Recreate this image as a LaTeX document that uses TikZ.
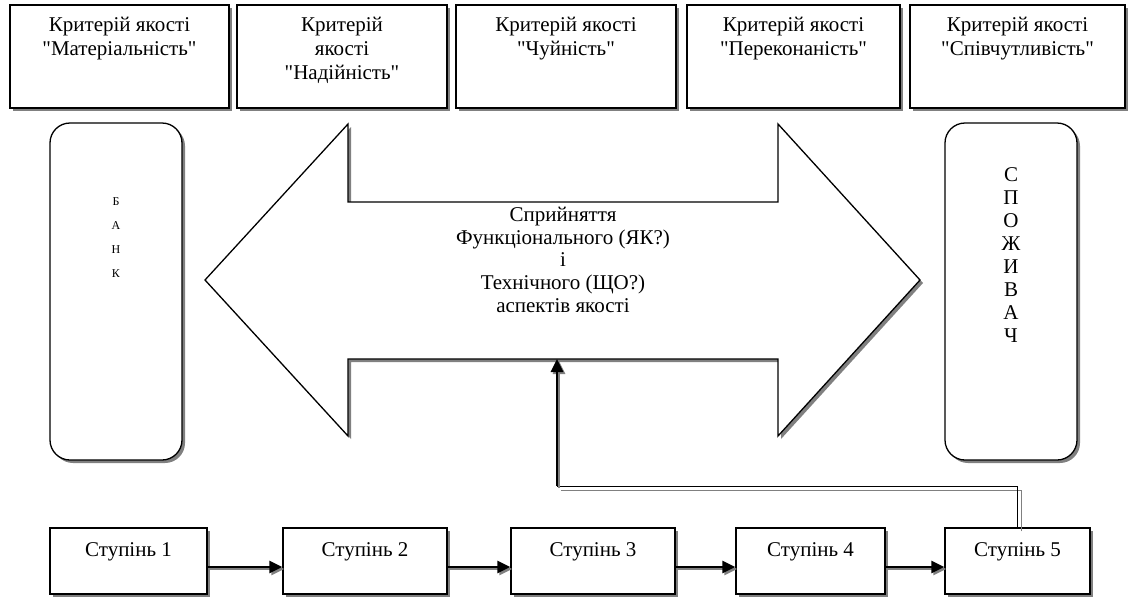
\documentclass[tikz,border=0pt]{standalone}
\usepackage{fontspec}
\setmainfont{Liberation Serif}[Ligatures=TeXOff]
\usetikzlibrary{positioning,shadows,arrows.meta}
\begin{document}
\begin{tikzpicture}[x=1pt,y=-1pt,
    boxshadow/.style={drop shadow={shadow xshift=3pt,shadow yshift=-3pt,fill=black!50,opacity=1}},
    box/.style={draw,line width=1.3pt,fill=white,boxshadow,inner sep=0pt},
    krit/.style={box,minimum height=103pt},
    party/.style={box,rounded corners=20pt,minimum width=132pt,minimum height=337pt},
    stup/.style={box,minimum height=66pt,text height=14pt,text depth=24pt,font=\fontsize{21}{24}\selectfont},
    txt/.style={inner sep=0pt,align=center,font=\fontsize{21}{24}\selectfont},
    headtip/.style={-{Triangle[length=13pt,width=12pt]}},
    flow/.style={headtip,line width=2.6pt,preaction={draw=black!50,headtip,line width=2.6pt,transform canvas={shift={(2pt,-2pt)}}}},
    feedback/.style={line width=1pt,preaction={draw=black!50,line width=1pt,transform canvas={shift={(4pt,-4pt)}}}}]
    \useasboundingbox (0,0) rectangle (1129,598);

    \node[krit,minimum width=219pt] (k1) at (119.5,56.5) {};
    \node[krit,minimum width=210pt] (k2) at (342,56.5) {};
    \node[krit,minimum width=220pt] (k3) at (566,56.5) {};
    \node[krit,minimum width=213pt] (k4) at (793.5,56.5) {};
    \node[krit,minimum width=215pt] (k5) at (1017.5,56.5) {};
    \node[txt,below=13pt of k1.north] (k1t) {Критерій якості\\"Матеріальність"};
    \node[txt,below=13pt of k2.north] (k2t) {Критерій\\якості\\"Надійність"};
    \node[txt,below=13pt of k3.north] (k3t) {Критерій якості\\"Чуйність"};
    \node[txt,below=13pt of k4.north] (k4t) {Критерій якості\\"Переконаність"};
    \node[txt,below=13pt of k5.north] (k5t) {Критерій якості\\"Співчутливість"};

    \node[party] (bank) at (116,291.5) {};
    \node[txt,font=\fontsize{12}{24}\selectfont,below=75pt of bank.north] (bankt) {Б\\А\\Н\\К};
    \node[party] (spog) at (1011,291.5) {};
    \node[txt,font=\fontsize{21}{23}\selectfont,below=45pt of spog.north] (spogt) {С\\П\\О\\Ж\\И\\В\\А\\Ч};

    \draw[line width=1.3pt,fill=white,boxshadow] (205,280) -- (348,124) -- (348,202) -- (778,202) -- (778,124)
        -- (920,280) -- (778,436) -- (778,359) -- (348,359) -- (348,436) -- cycle;
    \node[txt,font=\fontsize{21}{22.7}\selectfont,anchor=north] (sp) at (563,207)
        {Сприйняття\\Функціонального (ЯК?)\\і\\Технічного (ЩО?)\\аспектів якості};
    \coordinate (tgt) at (557,359);

    \node[stup,minimum width=157pt] (s1) at (128.5,561) {Ступінь 1};
    \node[stup,minimum width=164pt] (s2) at (365,561) {Ступінь 2};
    \node[stup,minimum width=164pt] (s3) at (593,561) {Ступінь 3};
    \node[stup,minimum width=149pt] (s4) at (810.5,561) {Ступінь 4};
    \node[stup,minimum width=145pt] (s5) at (1017.5,561) {Ступінь 5};
    \foreach \a/\b in {s1/s2,s2/s3,s3/s4,s4/s5}
        \draw[flow] ([yshift=-6pt]\a.east) -- ([yshift=-6pt]\b.west);

    \coordinate (fbc) at (557,486);
    \draw[feedback] (s5.north) |- (fbc);
    \draw[flow] (fbc) -- (tgt);
\end{tikzpicture}
\end{document}
